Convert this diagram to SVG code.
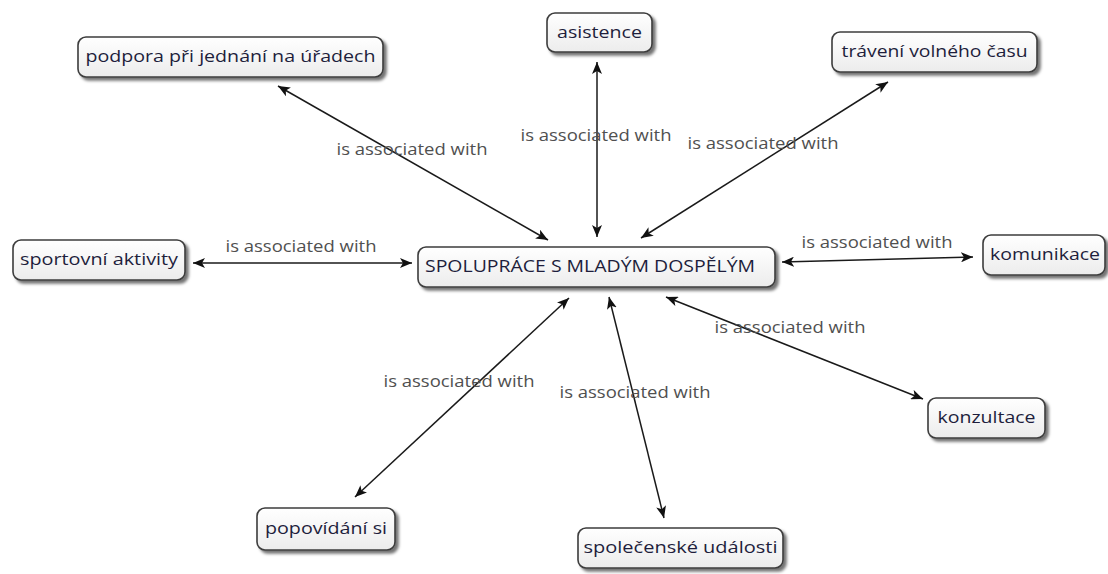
<svg xmlns="http://www.w3.org/2000/svg" width="1108" height="574" viewBox="0 0 1108 574">
<defs>
<style>
.node rect{fill:url(#g);stroke:#3c3c3c;stroke-width:1.6;filter:url(#sh)}
.node text{font-family:"Open Sans","Liberation Sans",sans-serif;font-size:16.5px;fill:#1e1e3c;text-anchor:middle}
.edge line{stroke:#1a1a1a;stroke-width:1.5;marker-start:url(#ah);marker-end:url(#ah)}
.lbl{font-family:"Open Sans","Liberation Sans",sans-serif;font-size:16px;fill:#505050;text-anchor:middle}
</style>
<linearGradient id="g" x1="0" y1="0" x2="0" y2="1">
<stop offset="0" stop-color="#ffffff"/><stop offset="1" stop-color="#ececec"/>
</linearGradient>
<filter id="sh" x="-10%" y="-30%" width="120%" height="170%">
<feDropShadow dx="3" dy="3" stdDeviation="1.5" flood-color="#000" flood-opacity="0.55"/>
</filter>
<marker id="ah" viewBox="0 0 12 10" refX="12" refY="5" markerWidth="12" markerHeight="10" markerUnits="userSpaceOnUse" orient="auto-start-reverse">
<path d="M0,0 L12,5 L0,10 L3,5 Z" fill="#111"/>
</marker>
</defs>
<rect width="1108" height="574" fill="#fff"/>
<g id="connectors" class="edge">
<line x1="278" y1="86" x2="548" y2="240"/>
<line x1="597" y1="62" x2="597" y2="237"/>
<line x1="888" y1="82" x2="641" y2="238"/>
<line x1="193" y1="263" x2="412" y2="263"/>
<line x1="782" y1="262" x2="973" y2="257"/>
<line x1="666" y1="297" x2="923" y2="399"/>
<line x1="609" y1="297" x2="664" y2="518"/>
<line x1="569" y1="298" x2="355" y2="497"/>
</g>
<g id="labels">
<text class="lbl" x="412" y="155" textLength="151" lengthAdjust="spacingAndGlyphs">is associated with</text>
<text class="lbl" x="596" y="141" textLength="151" lengthAdjust="spacingAndGlyphs">is associated with</text>
<text class="lbl" x="763" y="149" textLength="151" lengthAdjust="spacingAndGlyphs">is associated with</text>
<text class="lbl" x="301" y="252" textLength="151" lengthAdjust="spacingAndGlyphs">is associated with</text>
<text class="lbl" x="877" y="248" textLength="151" lengthAdjust="spacingAndGlyphs">is associated with</text>
<text class="lbl" x="790" y="333" textLength="151" lengthAdjust="spacingAndGlyphs">is associated with</text>
<text class="lbl" x="459" y="387" textLength="151" lengthAdjust="spacingAndGlyphs">is associated with</text>
<text class="lbl" x="635" y="398" textLength="151" lengthAdjust="spacingAndGlyphs">is associated with</text>
</g>
<g id="n-podpora" class="node"><rect x="78" y="37" width="305" height="40" rx="8"/><text x="230.5" y="62" textLength="290" lengthAdjust="spacingAndGlyphs">podpora při jednání na úřadech</text></g>
<g id="n-asistence" class="node"><rect x="547" y="13" width="105" height="39" rx="8"/><text x="599.5" y="38" textLength="85" lengthAdjust="spacingAndGlyphs">asistence</text></g>
<g id="n-traveni" class="node"><rect x="832" y="32" width="205" height="40" rx="8"/><text x="934.5" y="57" textLength="186" lengthAdjust="spacingAndGlyphs">trávení volného času</text></g>
<g id="n-sport" class="node"><rect x="13" y="240" width="172" height="40" rx="8"/><text x="99" y="265" textLength="158" lengthAdjust="spacingAndGlyphs">sportovní aktivity</text></g>
<g id="n-central" class="node"><rect x="418" y="247" width="357" height="40" rx="8"/><text x="590" y="272" textLength="330" lengthAdjust="spacingAndGlyphs">SPOLUPRÁCE S MLADÝM DOSPĚLÝM</text></g>
<g id="n-komunikace" class="node"><rect x="983" y="235" width="122" height="40" rx="8"/><text x="1045" y="260" textLength="110" lengthAdjust="spacingAndGlyphs">komunikace</text></g>
<g id="n-konzultace" class="node"><rect x="928" y="398" width="117" height="40" rx="8"/><text x="986.5" y="423" textLength="98" lengthAdjust="spacingAndGlyphs">konzultace</text></g>
<g id="n-popovidani" class="node"><rect x="257" y="508" width="138" height="42" rx="8"/><text x="326" y="534" textLength="122" lengthAdjust="spacingAndGlyphs">popovídání si</text></g>
<g id="n-spolecenske" class="node"><rect x="578" y="528" width="205" height="40" rx="8"/><text x="680.5" y="553" textLength="194" lengthAdjust="spacingAndGlyphs">společenské události</text></g>
</svg>
